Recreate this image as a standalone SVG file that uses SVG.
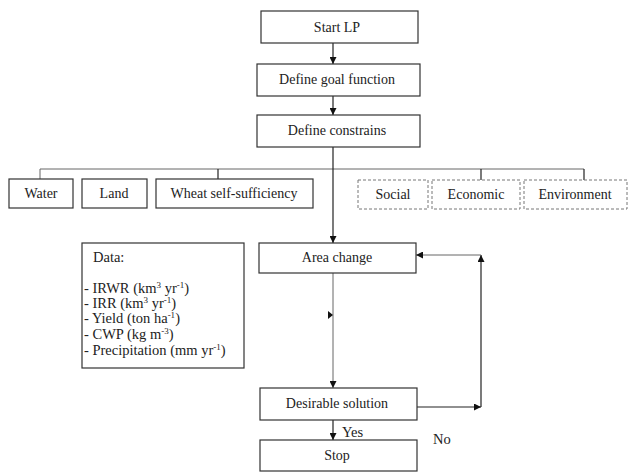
<svg xmlns="http://www.w3.org/2000/svg" width="629" height="474" viewBox="0 0 629 474">
<defs>
<style>
.box{fill:#fff;stroke:#333;stroke-width:1.2}
.dbox{fill:#fff;stroke:#777;stroke-width:1;stroke-dasharray:3 2}
.t{font-family:"Liberation Serif","Times New Roman",serif;font-size:14px;fill:#222;text-anchor:middle;dominant-baseline:central}
.dt{font-family:"Liberation Serif","Times New Roman",serif;font-size:14.5px;fill:#222}
.c{stroke:#222;stroke-width:1.2;fill:none}
.thin{stroke:#666;stroke-width:1;fill:none}
</style>
<marker id="ah" viewBox="0 0 10 10" refX="10" refY="5" markerWidth="7" markerHeight="7" orient="auto" markerUnits="userSpaceOnUse">
<path d="M0,0 L10,5 L0,10 z" fill="#111"/>
</marker>
</defs>
<rect width="629" height="474" fill="#fff"/>

<g id="connectors">
<line class="c" x1="333" y1="43" x2="333" y2="64" marker-end="url(#ah)"/>
<line class="c" x1="333" y1="96" x2="333" y2="115" marker-end="url(#ah)"/>
<line class="thin" x1="40" y1="169" x2="584" y2="169"/>
<line class="thin" x1="40" y1="169" x2="40" y2="179"/>
<line class="c" x1="218" y1="169" x2="218" y2="179"/>
<line class="c" x1="481" y1="169" x2="481" y2="180"/>
<line class="c" x1="584" y1="169" x2="584" y2="180"/>
<line class="c" x1="333" y1="147" x2="333" y2="243" marker-end="url(#ah)"/>
<line class="thin" x1="333" y1="273" x2="333" y2="388" marker-end="url(#ah)"/>
<path d="M328,311 L333,315 L328,319 z" fill="#111"/>
<line class="c" x1="417" y1="407" x2="481" y2="407" marker-end="url(#ah)"/>
<line class="c" x1="481" y1="407" x2="481" y2="255" marker-end="url(#ah)"/>
<line class="thin" x1="481" y1="255" x2="416" y2="255" marker-end="url(#ah)"/>
<line class="c" x1="333" y1="420" x2="333" y2="440" marker-end="url(#ah)"/>
</g>

<g id="start"><rect class="box" x="261" y="11" width="157" height="32"/><text class="t" x="337" y="27">Start LP</text></g>
<g id="goal"><rect class="box" x="257" y="64" width="163" height="32"/><text class="t" x="337" y="79">Define goal function</text></g>
<g id="constraints"><rect class="box" x="257" y="115" width="163" height="32"/><text class="t" x="337" y="130">Define constrains</text></g>

<g id="water"><rect class="box" x="9" y="179" width="64" height="29"/><text class="t" x="41" y="193">Water</text></g>
<g id="land"><rect class="box" x="82" y="179" width="65" height="29"/><text class="t" x="114" y="193">Land</text></g>
<g id="wheat"><rect class="box" x="156" y="179" width="157" height="29"/><text class="t" x="234" y="193">Wheat self-sufficiency</text></g>

<g id="social"><rect class="dbox" x="358" y="180" width="70" height="29"/><text class="t" x="393" y="194">Social</text></g>
<g id="economic"><rect class="dbox" x="432" y="180" width="88" height="29"/><text class="t" x="476" y="194">Economic</text></g>
<g id="environment"><rect class="dbox" x="524" y="180" width="103" height="29"/><text class="t" x="575" y="194">Environment</text></g>

<g id="data"><rect class="box" x="82" y="243" width="162" height="125"/>
<text class="dt" x="93" y="262">Data:</text>
<text class="dt" x="84" y="293">- IRWR (km<tspan baseline-shift="super" font-size="9">3</tspan> yr<tspan baseline-shift="super" font-size="9">-1</tspan>)</text>
<text class="dt" x="84" y="308">- IRR (km<tspan baseline-shift="super" font-size="9">3</tspan> yr<tspan baseline-shift="super" font-size="9">-1</tspan>)</text>
<text class="dt" x="84" y="323">- Yield (ton ha<tspan baseline-shift="super" font-size="9">-1</tspan>)</text>
<text class="dt" x="84" y="339">- CWP (kg m<tspan baseline-shift="super" font-size="9">-3</tspan>)</text>
<text class="dt" x="84" y="355">- Precipitation (mm yr<tspan baseline-shift="super" font-size="9">-1</tspan>)</text>
</g>

<g id="area"><rect class="box" x="259" y="243" width="157" height="30"/><text class="t" x="337" y="257">Area change</text></g>
<g id="desirable"><rect class="box" x="260" y="388" width="157" height="32"/><text class="t" x="337" y="403">Desirable solution</text></g>
<g id="stop"><rect class="box" x="260" y="440" width="157" height="31"/><text class="t" x="337" y="455">Stop</text></g>

<g id="labels">
<text class="dt" x="342" y="437">Yes</text>
<text class="dt" x="433" y="444">No</text>
</g>
</svg>
